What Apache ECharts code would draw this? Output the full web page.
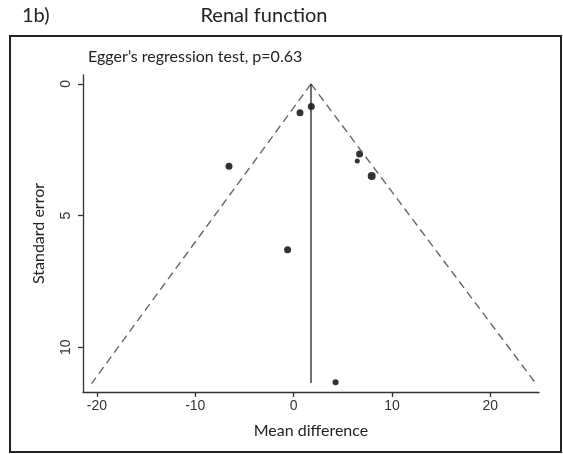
<!DOCTYPE html>
<html>
<head>
<meta charset="utf-8">
<script src="https://cdn.jsdelivr.net/npm/echarts@6/dist/echarts.min.js"></script>
<style>
  html, body { margin: 0; padding: 0; background: #fff; }
  #main { width: 563px; height: 454px; }
</style>
</head>
<body>
<div id="main"></div>
<script>
// study estimates
var meanDiff = [1.8, 0.65, -6.57, 6.71, 6.48, 7.94, -0.61, 4.27];
var stdErr   = [0.86, 1.09, 3.13, 2.66, 2.93, 3.5, 6.3, 11.33];
var dotSize  = [7, 7, 7, 7, 5, 8, 7, 6];

var pooled = 1.77;   // vertical line
var maxSE = 11.36;

// pseudo 95% limits (dashed)
var leftLimit  = [[1.77, 0], [-20.55, 11.38]];
var rightLimit = [[1.77, 0], [24.6, 11.36]];

var xTicks = [-20, -10, 0, 10, 20];
var yTicks = [0, 5, 10];

var points = meanDiff.map(function (v, i) {
    return { value: [v, stdErr[i]], symbolSize: dotSize[i] };
});

var myChart = echarts.init(document.getElementById('main'));
var options = {
    animation: false,
    title: [
        { text: '1b)', left: 22, top: 6, padding: 0,
          textStyle: { fontFamily: 'Lato', fontSize: 20, fontWeight: 'normal', color: '#222' } },
        { text: 'Renal function', left: 264, top: 6, padding: 0, textAlign: 'center',
          textStyle: { fontFamily: 'Lato', fontSize: 20, fontWeight: 'normal', color: '#222' } },
        { text: 'Egger\u2019s regression test, p=0.63', left: 88, top: 49, padding: 0,
          textStyle: { fontFamily: 'Lato', fontSize: 16, fontWeight: 'normal', color: '#222' } }
    ],
    graphic: [{
        type: 'rect',
        shape: { x: 10, y: 36, width: 551, height: 416 },
        style: { fill: 'none', stroke: '#222', lineWidth: 2 },
        silent: true
    }],
    grid: { left: 83, right: 24, top: 75, bottom: 62 },
    xAxis: {
        type: 'value',
        min: -21.42,
        max: 24.96,
        name: 'Mean difference',
        nameLocation: 'middle',
        nameGap: 31,
        nameTextStyle: { fontFamily: 'Lato', fontSize: 16, color: '#222' },
        splitLine: { show: false },
        axisLine: { show: true, onZero: false, lineStyle: { color: '#333', width: 1.3 } },
        axisTick: { show: true, length: 5, customValues: xTicks, lineStyle: { color: '#333', width: 1.3 } },
        axisLabel: { customValues: xTicks, margin: 7, fontFamily: 'Liberation Sans', fontSize: 14, color: '#333' }
    },
    yAxis: {
        type: 'value',
        inverse: true,
        min: -0.34,
        max: 11.7,
        name: 'Standard error',
        nameLocation: 'middle',
        nameGap: 36,
        nameTextStyle: { fontFamily: 'Lato', fontSize: 16, color: '#222' },
        splitLine: { show: false },
        axisLine: { show: true, onZero: false, lineStyle: { color: '#333', width: 1.3 } },
        axisTick: { show: true, length: 5, customValues: yTicks, lineStyle: { color: '#333', width: 1.3 } },
        axisLabel: { customValues: yTicks, rotate: 90, margin: 10, fontFamily: 'Liberation Sans', fontSize: 14, color: '#333' }
    },
    series: [
        {
            type: 'line', data: leftLimit, symbol: 'none', silent: true,
            lineStyle: { color: '#666', width: 1.4, type: [8, 5] }
        },
        {
            type: 'line', data: rightLimit, symbol: 'none', silent: true,
            lineStyle: { color: '#666', width: 1.4, type: [8, 5] }
        },
        {
            type: 'line', data: [[pooled, 0], [pooled, maxSE]], symbol: 'none', silent: true,
            lineStyle: { color: '#222', width: 1.3 }
        },
        {
            type: 'scatter', data: points,
            itemStyle: { color: '#000' }
        }
    ]
};
myChart.setOption(options);
</script>
</body>
</html>
